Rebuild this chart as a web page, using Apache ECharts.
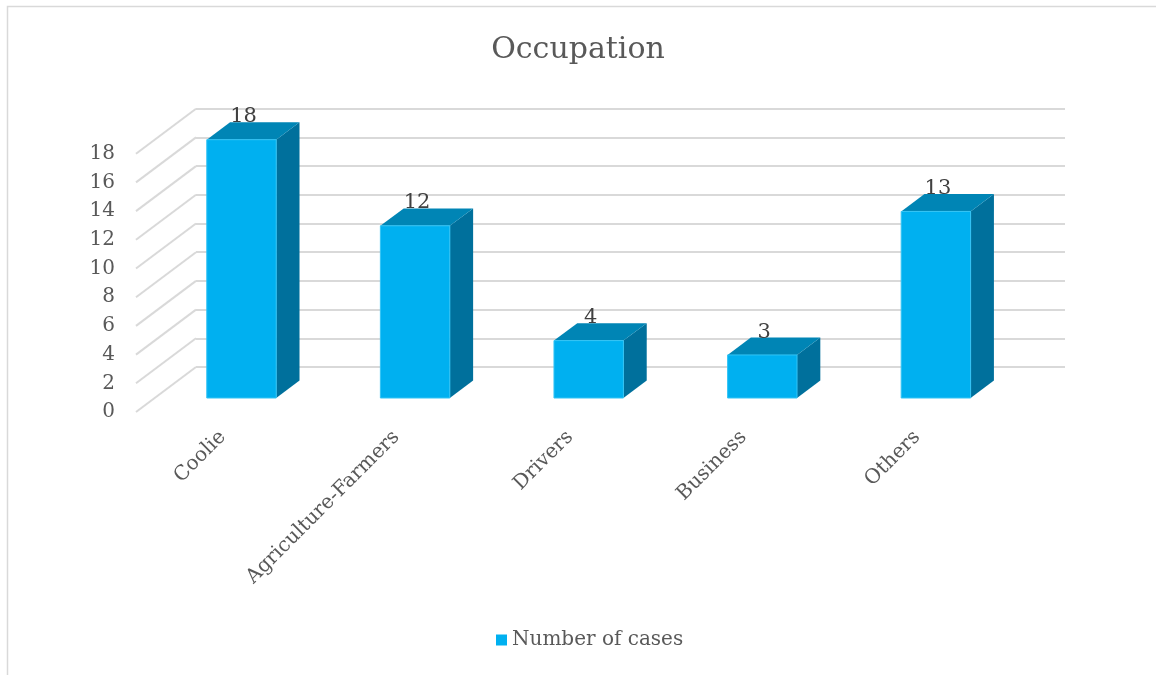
<!DOCTYPE html>
<html>
<head>
<meta charset="utf-8">
<script src="https://cdn.jsdelivr.net/npm/echarts@6/dist/echarts.min.js"></script>
<style>
  html, body { margin: 0; padding: 0; background: #ffffff; }
  #chart { width: 1156px; height: 675px; }
</style>
</head>
<body>
<div id="chart"></div>
<script>
// Occupation counts
const categories = ['Coolie', 'Agriculture-Farmers', 'Drivers', 'Business', 'Others'];
const cases = [18, 12, 4, 3, 13];
const yTicks = [0, 2, 4, 6, 8, 10, 12, 14, 16, 18];

const FONT = 'DejaVu Serif';
const TEXT = '#595959';
const WALL = '#d9d9d9';

// perspective offsets (pixels): wall depth and bar placement/depth
const WALL_DX = 60, WALL_DY = -45;
const BAR_DX = 18.7, BAR_DY = -14;
const DEPTH_DX = 23.3, DEPTH_DY = -17.4;

const chart = echarts.init(document.getElementById('chart'), null, { renderer: 'canvas' });

function renderBar(params, api) {
  const i = api.value(0);
  const v = api.value(1);
  const top = api.coord([i, v]);
  const base = api.coord([i, 0]);
  const bw = api.size([1, 0])[0] * 0.4;
  const x0 = top[0] - bw / 2 + BAR_DX;
  const x1 = x0 + bw;
  const yT = top[1] + BAR_DY;
  const yB = base[1] + BAR_DY;
  return {
    type: 'group',
    children: [
      { type: 'polygon', shape: { points: [[x1, yT], [x1 + DEPTH_DX, yT + DEPTH_DY], [x1 + DEPTH_DX, yB + DEPTH_DY], [x1, yB]] },
        style: { fill: '#00709C' } },
      { type: 'polygon', shape: { points: [[x0, yT], [x0 + DEPTH_DX, yT + DEPTH_DY], [x1 + DEPTH_DX, yT + DEPTH_DY], [x1, yT]] },
        style: { fill: '#0085B5' } },
      { type: 'rect', shape: { x: x0, y: yT, width: bw, height: yB - yT },
        style: { fill: '#00B0F0', stroke: '#33C4F5', lineWidth: 1 } },
      { type: 'text', x: (x0 + x1) / 2 + 2, y: yT + DEPTH_DY + 5,
        style: { text: String(v), fill: '#404040', font: '21px "' + FONT + '"', align: 'center', verticalAlign: 'bottom' } }
    ]
  };
}

function renderDiagonal(params, api) {
  const v = api.value(0);
  const p = api.coord([0, v]);
  const x0 = params.coordSys.x;
  return {
    type: 'line',
    shape: { x1: x0, y1: p[1], x2: x0 + WALL_DX, y2: p[1] + WALL_DY },
    style: { stroke: WALL, lineWidth: 2 }
  };
}

chart.setOption({
  animation: false,
  backgroundColor: '#ffffff',
  title: {
    text: 'Occupation',
    left: 'center',
    top: 30,
    textStyle: { fontFamily: FONT, fontSize: 30, fontWeight: 'normal', color: TEXT }
  },
  legend: {
    bottom: 20,
    left: 491,
    itemWidth: 11,
    itemHeight: 11,
    itemGap: 6,
    icon: 'rect',
    textStyle: { fontFamily: FONT, fontSize: 20, color: TEXT },
    data: [{ name: 'Number of cases', itemStyle: { color: '#00B0F0' } }]
  },
  graphic: [
    { type: 'rect', shape: { x: 7.5, y: 6.5, width: 1160, height: 680 },
      style: { fill: 'none', stroke: WALL, lineWidth: 1.5 }, z: -1 }
  ],
  grid: [
    { left: 136, top: 153.7, width: 868, height: 258.3 },
    { left: 196, top: 108.7, width: 869, height: 258.3 }
  ],
  xAxis: [
    { type: 'category', gridIndex: 0, data: categories,
      axisLine: { show: false }, axisTick: { show: false },
      axisLabel: { rotate: 45, interval: 0, margin: 22, fontFamily: FONT, fontSize: 20, color: TEXT } },
    { type: 'category', gridIndex: 1, data: categories, show: false }
  ],
  yAxis: [
    { type: 'value', gridIndex: 0, min: 0, max: 18, interval: 2,
      axisLine: { show: false }, axisTick: { show: false }, splitLine: { show: false },
      axisLabel: { margin: 21, fontFamily: FONT, fontSize: 20, color: TEXT } },
    { type: 'value', gridIndex: 1, min: 0, max: 18, interval: 2,
      axisLine: { show: false }, axisTick: { show: false }, axisLabel: { show: false },
      splitLine: { show: true, lineStyle: { color: WALL, width: 2 } } }
  ],
  series: [
    { type: 'custom', name: 'wall', xAxisIndex: 0, yAxisIndex: 0, silent: true,
      renderItem: renderDiagonal, data: yTicks.map(v => [v]), encode: { y: 0 } },
    { type: 'custom', name: 'Number of cases', xAxisIndex: 0, yAxisIndex: 0,
      itemStyle: { color: '#00B0F0' },
      renderItem: renderBar, data: cases.map((v, i) => [i, v]), encode: { x: 0, y: 1 } }
  ]
});
</script>
</body>
</html>
